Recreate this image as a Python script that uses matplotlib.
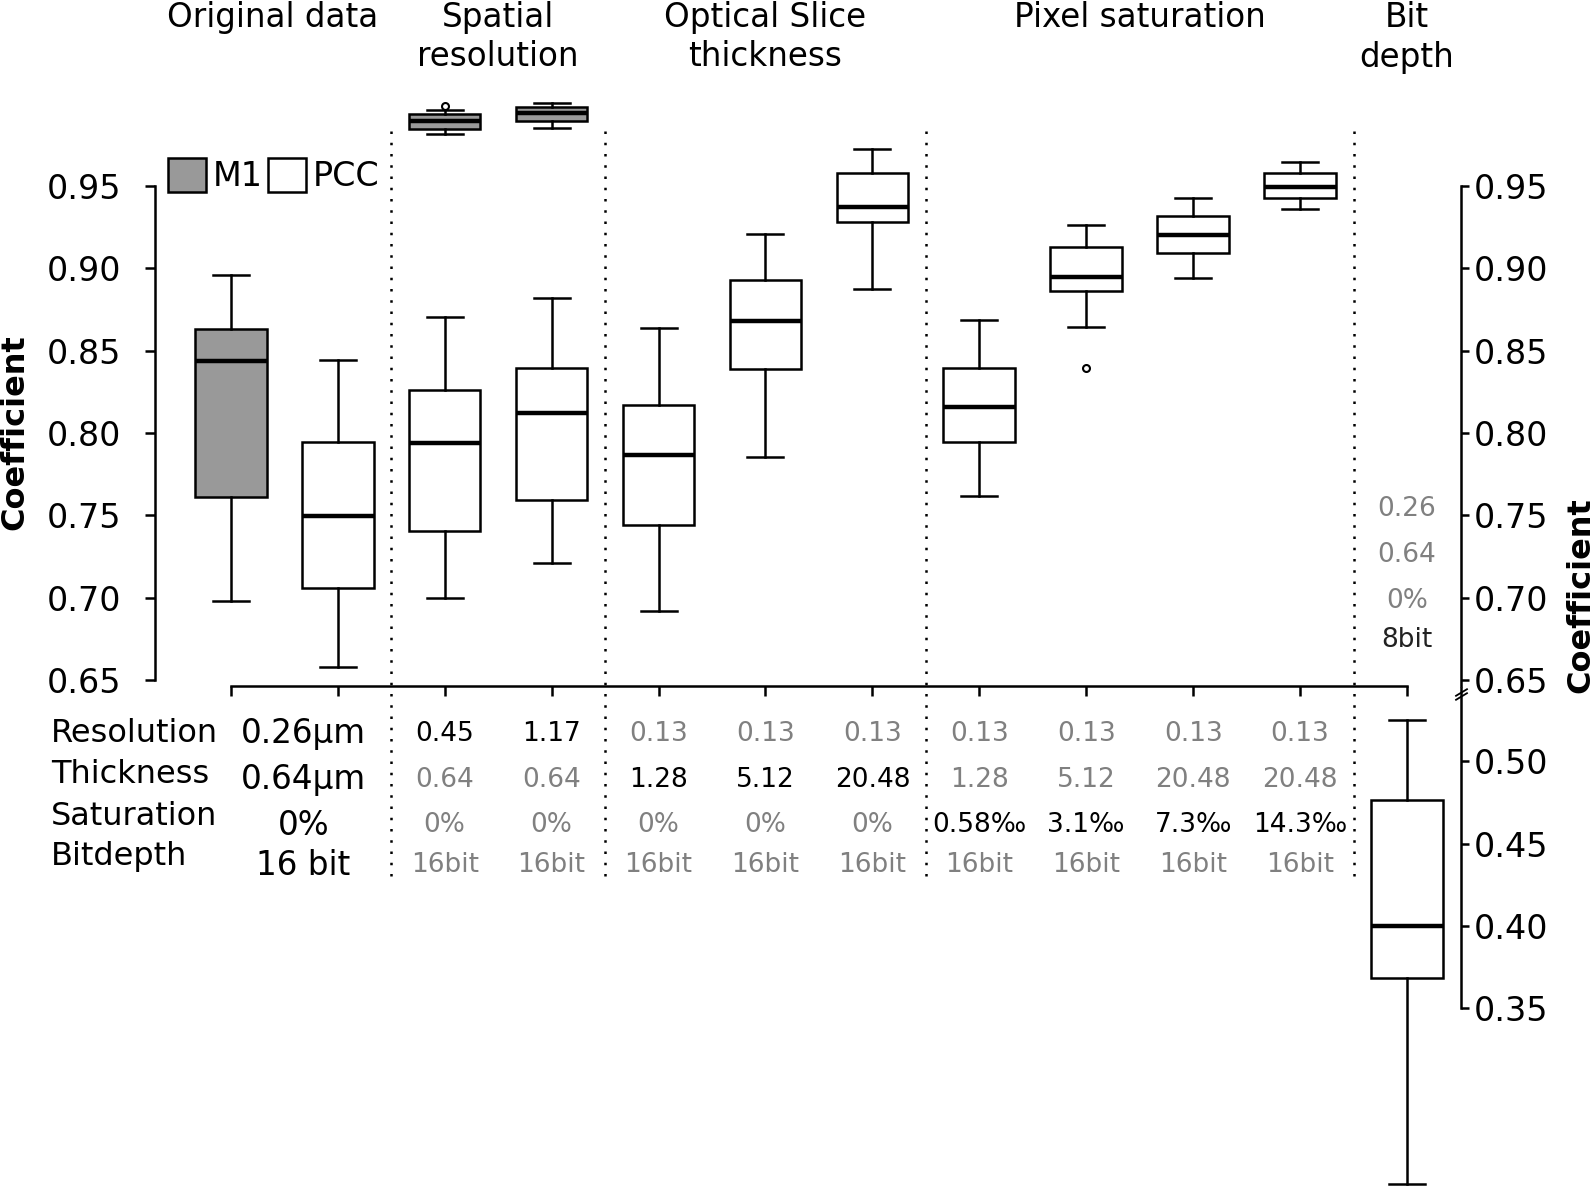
import matplotlib
matplotlib.use("Agg")
import matplotlib.pyplot as plt
import matplotlib.transforms as mtransforms
from matplotlib.patches import Patch

# box statistics: (whislo, q1, median, q3, whishi, fliers)
m1_pos = [1, 3, 4]
m1_boxes = [
    (0.698, 0.761, 0.844, 0.863, 0.896, []),
    (0.9816, 0.9848, 0.9896, 0.9939, 0.9961, [0.9988]),
    (0.9852, 0.9896, 0.9941, 0.9981, 1.0002, []),
]
pcc_pos = [2, 3, 4, 5, 6, 7, 8, 9, 10, 11]
pcc_boxes = [
    (0.658, 0.7062, 0.7494, 0.7944, 0.8444, []),
    (0.700, 0.7407, 0.7938, 0.8259, 0.8704, []),
    (0.721, 0.7593, 0.8123, 0.8395, 0.8821, []),
    (0.692, 0.7444, 0.7864, 0.8173, 0.8636, []),
    (0.7852, 0.8389, 0.8679, 0.8932, 0.9210, []),
    (0.8875, 0.9280, 0.9371, 0.9577, 0.9725, []),
    (0.7620, 0.7944, 0.8156, 0.8397, 0.8685, []),
    (0.8642, 0.8861, 0.8949, 0.9128, 0.9265, [0.8393]),
    (0.8941, 0.9093, 0.9204, 0.9318, 0.9427, []),
    (0.9359, 0.9427, 0.9492, 0.9577, 0.9644, []),
]
bit_pos = [12]
bit_boxes = [(0.2437, 0.3685, 0.3998, 0.4766, 0.5252, [])]

main_ticks = [0.65, 0.70, 0.75, 0.80, 0.85, 0.90, 0.95]
low_ticks = [0.35, 0.40, 0.45, 0.50]
separators = [2.5, 4.5, 7.5, 11.5]

headers = ["Original data", "Spatial\nresolution", "Optical Slice\nthickness",
           "Pixel saturation", "Bit\ndepth"]
header_x = [1.39, 3.5, 6.0, 9.5, 12.0]

row_labels = ["Resolution", "Thickness", "Saturation", "Bitdepth"]
orig_values = ["0.26µm", "0.64µm", "0%", "16 bit"]
col_pos = [3, 4, 5, 6, 7, 8, 9, 10, 11]
resolution = ["0.45", "1.17", "0.13", "0.13", "0.13", "0.13", "0.13", "0.13", "0.13"]
thickness = ["0.64", "0.64", "1.28", "5.12", "20.48", "1.28", "5.12", "20.48", "20.48"]
saturation = ["0%", "0%", "0%", "0%", "0%", "0.58‰", "3.1‰", "7.3‰", "14.3‰"]
bitdepth = ["16bit"] * 9
changed_row = [0, 0, 1, 1, 1, 2, 2, 2, 2]
bit_values = ["0.26", "0.64", "0%", "8bit"]

GRAY_FILL = "#999999"
GRAY_TEXT = "#808080"
W, H = 1594, 1188
K = 1647.0  # pixels per unit of coefficient


def fx(px):
    return px / W


def fy(py):
    return 1 - py / H


def to_stats(boxes):
    return [dict(whislo=b[0], q1=b[1], med=b[2], q3=b[3], whishi=b[4], fliers=b[5])
            for b in boxes]


plt.rcParams['font.family'] = ['DejaVu Sans']
fig = plt.figure(figsize=(W / 100, H / 100), dpi=100)

# main axes: 0.95 sits at y=186 px, spine from x=154.5 to 1460.8
y0, y1 = 0.6464, 1.005
top_px = 186 - (y1 - 0.95) * K
bot_px = 186 + (0.95 - y0) * K
left_px, right_px = 154.5, 1460.8
x0 = 1 - (230.8 - left_px) / 106.93
x1 = 1 + (right_px - 230.8) / 106.93

ax = fig.add_axes([fx(left_px), fy(bot_px), (right_px - left_px) / W, (bot_px - top_px) / H])
ax.set_xlim(x0, x1)
ax.set_ylim(y0, y1)

# lower axes for the bit depth box, same scale
low_top = 688
low_ylim = (0.50 - (H - 761.4) / K, 0.50 + (761.4 - low_top) / K)
ax_low = fig.add_axes([fx(left_px), 0, (right_px - left_px) / W, (H - low_top) / H])
ax_low.set_xlim(x0, x1)
ax_low.set_ylim(*low_ylim)
ax_low.patch.set_visible(False)

box_kw = dict(widths=0.67, capwidths=0.337, patch_artist=True, manage_ticks=False,
              medianprops=dict(color='black', linewidth=3.2),
              whiskerprops=dict(color='black', linewidth=1.8),
              capprops=dict(color='black', linewidth=1.8),
              flierprops=dict(marker='o', markersize=5, markerfacecolor='white',
                              markeredgecolor='black', markeredgewidth=1.5))

ax.bxp(to_stats(m1_boxes), positions=m1_pos,
       boxprops=dict(facecolor=GRAY_FILL, edgecolor='black', linewidth=1.8), **box_kw)
ax.bxp(to_stats(pcc_boxes), positions=pcc_pos,
       boxprops=dict(facecolor='white', edgecolor='black', linewidth=1.8), **box_kw)
parts = ax_low.bxp(to_stats(bit_boxes), positions=bit_pos,
                   boxprops=dict(facecolor='white', edgecolor='black', linewidth=1.8), **box_kw)
for key in parts:
    for art in parts[key]:
        art.set_clip_on(False)

# dotted separators
sep_top = 0.95 + (186 - 127) / K
sep_bot = 0.95 + (186 - 876) / K
for s in separators:
    ax.plot([s, s], [sep_bot, sep_top], color='black', linewidth=1.8,
            linestyle=(0, (1, 3.5)), clip_on=False)

# main axes styling
for side in ['top', 'right']:
    ax.spines[side].set_visible(False)
ax.spines['left'].set_bounds(0.65, 0.95)
ax.spines['bottom'].set_bounds(1, 12)
for sp in ax.spines.values():
    sp.set_linewidth(1.8)
ax.set_xticks(range(1, 13))
ax.set_xticklabels([])
ax.tick_params(axis='x', direction='out', length=7, width=1.8)
ax.set_yticks(main_ticks)
ax.set_yticklabels([f"{v:.2f}" for v in main_ticks])
ax.tick_params(axis='y', direction='out', length=7, width=1.8, labelsize=24, pad=17)

# right axis for upper part
ax_r = ax.twinx()
ax_r.set_ylim(y0, y1)
for side in ['top', 'left', 'bottom']:
    ax_r.spines[side].set_visible(False)
ax_r.spines['right'].set_bounds(y0, 0.95)
ax_r.spines['right'].set_linewidth(1.8)
ax_r.set_yticks(main_ticks)
ax_r.set_yticklabels([f"{v:.2f}" for v in main_ticks])
ax_r.tick_params(axis='y', direction='out', length=6, width=1.8, labelsize=24, pad=3)

# lower axis
for side in ['top', 'left', 'bottom']:
    ax_low.spines[side].set_visible(False)
ax_low.spines['right'].set_bounds(0.35, low_ylim[1])
ax_low.spines['right'].set_linewidth(1.8)
ax_low.set_xticks([])
ax_low.yaxis.tick_right()
ax_low.set_yticks(low_ticks)
ax_low.set_yticklabels([f"{v:.2f}" for v in low_ticks])
ax_low.tick_params(axis='y', direction='out', length=6, width=1.8, labelsize=24, pad=3)

# axis break marks
ax_low.plot([1, 1], [0.9925, 0.9845], transform=ax_low.transAxes, linestyle='none',
            marker=[(-1, -0.6), (1, 0.6)], markersize=9, markeredgewidth=1.3,
            color='black', clip_on=False)

# legend
handles = [Patch(facecolor=GRAY_FILL, edgecolor='black', linewidth=1.8, label='M1'),
           Patch(facecolor='white', edgecolor='black', linewidth=1.8, label='PCC')]
ax.legend(handles=handles, ncol=2, loc='upper left', bbox_to_anchor=(fx(168), fy(158)),
          bbox_transform=fig.transFigure, frameon=False, fontsize=24,
          handlelength=1.15, handleheight=1.2, handletextpad=0.2,
          columnspacing=0.15, borderpad=0, borderaxespad=0)

# y labels
fig.text(fx(14.7), fy(432), "Coefficient", rotation=90, fontsize=23, fontweight='bold',
         ha='center', va='center')
fig.text(fx(1581), fy(595), "Coefficient", rotation=90, fontsize=23, fontweight='bold',
         ha='center', va='center')

trans = mtransforms.blended_transform_factory(ax.transData, fig.transFigure)

# headers
for label, x in zip(headers, header_x):
    ax.text(x, fy(1), label, transform=trans, ha='center', va='top', fontsize=23.5,
            linespacing=1.25)

# table below the axis
label_y = [734, 774.6, 816.3, 857]
value_y = [734, 779.7, 825.5, 865.1]
for lab, py in zip(row_labels, label_y):
    fig.text(fx(50.8), fy(py), lab, fontsize=23, ha='left', va='center')
for val, py in zip(orig_values, value_y):
    ax.text(1.68, fy(py), val, transform=trans, fontsize=23.5, ha='center', va='center')

rows = [resolution, thickness, saturation, bitdepth]
for j, x in enumerate(col_pos):
    for r, row in enumerate(rows):
        color = 'black' if changed_row[j] == r else GRAY_TEXT
        ax.text(x, fy(value_y[r]), row[j], transform=trans, fontsize=19,
                ha='center', va='center', color=color)

bit_y = [509.3, 555, 600.8, 640.4]
for i, (val, py) in enumerate(zip(bit_values, bit_y)):
    color = '#222222' if i == 3 else GRAY_TEXT
    ax.text(12, fy(py), val, transform=trans, fontsize=19, ha='center', va='center',
            color=color)

fig.savefig("out.png", dpi=100)
